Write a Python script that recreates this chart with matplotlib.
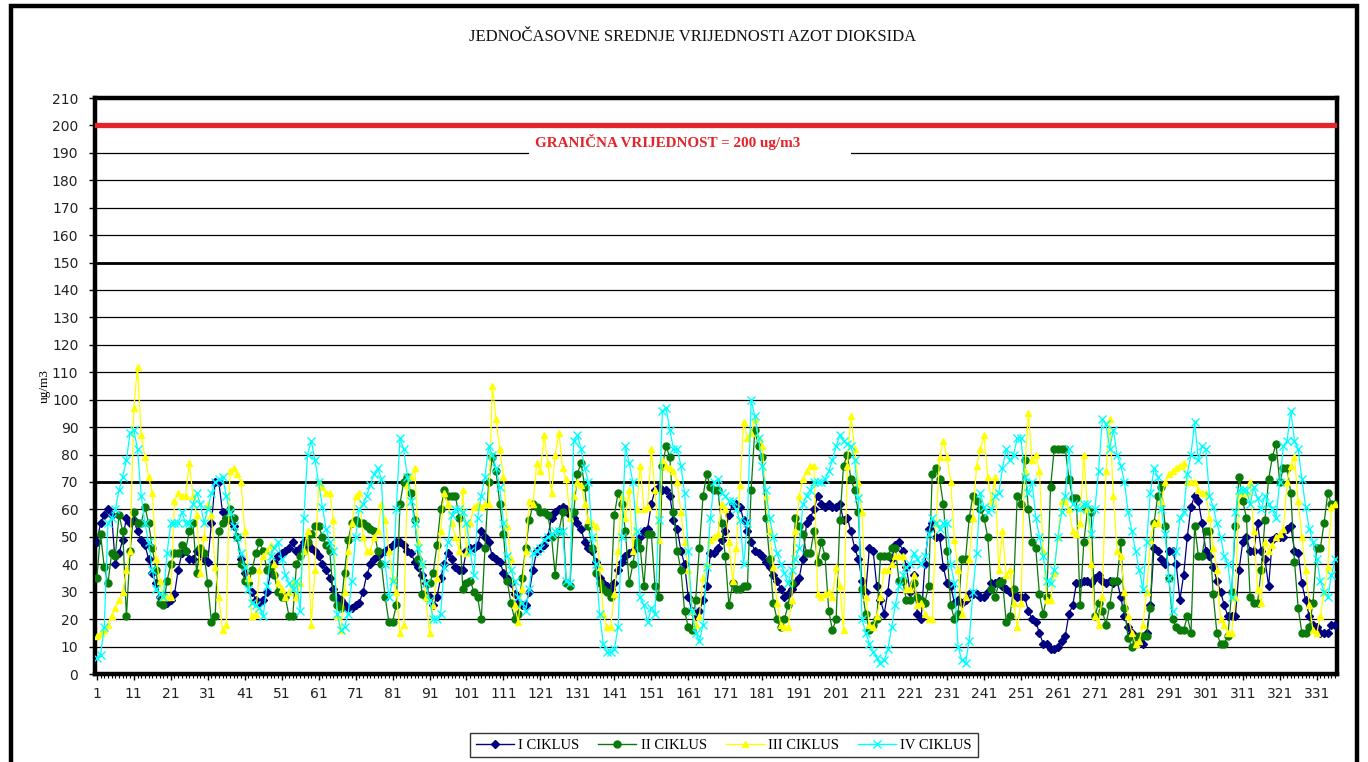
import numpy as np
import matplotlib
matplotlib.use("Agg")
import matplotlib.pyplot as plt
from matplotlib.patches import Rectangle
from matplotlib.lines import Line2D

TITLE = "JEDNOČASOVNE SREDNJE VRIJEDNOSTI AZOT DIOKSIDA"
LIMIT_LABEL = "GRANIČNA VRIJEDNOST = 200 ug/m3"
LIMIT_VALUE = 200
Y_LABEL = "ug/m3"
SERIES_NAMES = ["I CIKLUS", "II CIKLUS", "III CIKLUS", "IV CIKLUS"]
X_TICKS = list(range(1, 332, 10))
Y_TICKS = list(range(0, 211, 10))
THICK_GRID = [70, 150]

I_CIKLUS = [
    48, 55, 58, 60, 58, 40, 44, 49, 57, 55,
    56, 52, 49, 47, 42, 37, 33, 28, 27, 26,
    27, 29, 38, 44, 45, 42, 42, 45, 44, 42,
    41, 55, 70, 70, 59, 57, 56, 54, 50, 42,
    37, 33, 30, 27, 26, 27, 30, 37, 41, 43,
    44, 45, 46, 48, 45, 46, 48, 47, 46, 45,
    43, 40, 38, 35, 31, 28, 27, 25, 24, 24,
    25, 26, 30, 36, 40, 42, 43, 44, 45, 46,
    47, 48, 48, 47, 45, 44, 41, 39, 36, 33,
    28, 25, 28, 35, 40, 44, 42, 39, 38, 38,
    45, 46, 46, 47, 52, 50, 48, 43, 42, 41,
    37, 35, 33, 29, 26, 25, 25, 30, 38, 45,
    46, 47, 50, 57, 59, 60, 61, 60, 58, 57,
    55, 53, 48, 46, 45, 41, 35, 33, 32, 31,
    33, 38, 41, 43, 44, 45, 48, 50, 52, 53,
    62, 67, 68, 67, 67, 65, 56, 53, 45, 40,
    28, 23, 21, 23, 27, 32, 44, 44, 46, 49,
    52, 58, 62, 62, 61, 56, 52, 48, 45, 44,
    43, 41, 39, 36, 34, 31, 28, 29, 31, 33,
    35, 42, 55, 57, 60, 65, 62, 61, 62, 61,
    61, 62, 56, 57, 52, 46, 42, 34, 30, 46,
    45, 32, 27, 22, 30, 42, 47, 48, 45, 39,
    30, 36, 22, 20, 40, 53, 55, 50, 50, 39,
    33, 32, 26, 27, 26, 27, 29, 29, 29, 28,
    28, 30, 33, 33, 34, 32, 31, 30, 29, 28,
    28, 28, 23, 20, 19, 15, 11, 11, 9, 9,
    10, 12, 14, 22, 25, 33, 33, 34, 34, 33,
    35, 36, 34, 33, 34, 33, 34, 28, 21, 17,
    15, 13, 12, 11, 15, 25, 46, 45, 42, 40,
    45, 45, 40, 27, 36, 50, 61, 65, 63, 55,
    45, 43, 39, 34, 30, 25, 21, 21, 21, 38,
    48, 50, 45, 45, 55, 45, 42, 32, 49, 50,
    50, 50, 53, 54, 45, 44, 33, 27, 21, 18,
    17, 15, 15, 15, 18, 18,
]

II_CIKLUS = [
    35, 51, 39, 33, 44, 43, 58, 52, 21, 45,
    59, 55, 55, 61, 55, 46, 38, 26, 25, 34,
    40, 44, 44, 47, 45, 52, 55, 37, 46, 44,
    33, 19, 21, 52, 55, 57, 60, 57, 50, 40,
    34, 33, 38, 44, 48, 45, 38, 39, 36, 30,
    28, 28, 21, 21, 40, 43, 45, 48, 51, 54,
    54, 50, 47, 45, 28, 25, 24, 37, 49, 55,
    56, 55, 55, 54, 53, 52, 45, 40, 28, 19,
    19, 25, 62, 70, 72, 66, 56, 42, 29, 28,
    33, 37, 47, 60, 67, 65, 65, 65, 57, 31,
    33, 34, 30, 28, 20, 46, 70, 79, 74, 62,
    51, 34, 26, 20, 22, 35, 46, 56, 62, 61,
    59, 59, 58, 50, 36, 52, 59, 33, 32, 59,
    73, 77, 68, 54, 46, 37, 33, 31, 30, 28,
    58, 66, 62, 52, 33, 40, 48, 46, 32, 51,
    51, 32, 28, 76, 83, 79, 59, 45, 38, 23,
    17, 16, 27, 46, 65, 73, 68, 67, 67, 55,
    43, 25, 33, 31, 31, 32, 32, 67, 89, 83,
    79, 57, 42, 26, 20, 17, 20, 25, 33, 57,
    54, 51, 44, 44, 52, 41, 48, 43, 23, 16,
    20, 56, 76, 80, 71, 67, 59, 31, 22, 16,
    18, 20, 43, 43, 43, 46, 46, 34, 34, 27,
    27, 33, 28, 27, 26, 32, 73, 75, 71, 62,
    45, 25, 20, 22, 42, 42, 57, 65, 63, 60,
    57, 50, 31, 28, 33, 34, 19, 21, 31, 65,
    62, 78, 60, 48, 46, 29, 22, 28, 68, 82,
    82, 82, 82, 71, 64, 64, 25, 48, 60, 59,
    21, 26, 23, 18, 25, 34, 34, 48, 24, 13,
    10, 12, 14, 14, 14, 24, 55, 65, 68, 54,
    35, 20, 17, 16, 16, 21, 15, 54, 43, 43,
    52, 52, 29, 15, 11, 11, 14, 30, 54, 72,
    63, 57, 28, 26, 26, 38, 56, 71, 79, 84,
    70, 75, 75, 66, 41, 24, 15, 15, 17, 26,
    46, 46, 55, 66, 62, 62,
]

III_CIKLUS = [
    14, 15, 16, 18, 21, 24, 27, 30, 38, 45,
    97, 112, 87, 79, 72, 66, 42, 34, 28, 28,
    28, 63, 66, 65, 65, 77, 65, 58, 37, 50,
    62, 58, 39, 28, 16, 18, 74, 75, 73, 70,
    52, 35, 21, 22, 38, 43, 45, 47, 40, 33,
    31, 28, 30, 33, 28, 33, 45, 52, 18, 38,
    70, 68, 66, 66, 56, 21, 16, 30, 45, 55,
    65, 66, 50, 45, 45, 50, 52, 62, 56, 45,
    35, 30, 15, 18, 69, 72, 75, 48, 40, 28,
    15, 25, 35, 52, 66, 62, 55, 50, 45, 67,
    44, 55, 61, 62, 61, 62, 62, 105, 93, 82,
    72, 54, 42, 25, 19, 31, 45, 63, 62, 77,
    74, 87, 77, 66, 80, 88, 75, 71, 57, 65,
    70, 69, 62, 56, 55, 54, 39, 22, 17, 17,
    29, 45, 65, 57, 67, 45, 60, 76, 60, 61,
    82, 67, 49, 78, 76, 75, 74, 70, 59, 48,
    38, 23, 18, 21, 35, 40, 49, 50, 51, 62,
    60, 48, 34, 46, 69, 92, 86, 88, 93, 86,
    83, 65, 52, 39, 26, 18, 17, 17, 27, 52,
    65, 71, 74, 76, 76, 29, 28, 29, 30, 28,
    39, 32, 16, 76, 94, 82, 70, 59, 28, 18,
    17, 21, 28, 38, 38, 40, 43, 43, 43, 31,
    31, 36, 25, 26, 22, 20, 20, 55, 79, 85,
    79, 70, 49, 38, 22, 28, 42, 57, 76, 82,
    87, 72, 63, 72, 38, 52, 36, 38, 26, 17,
    26, 74, 95, 78, 80, 74, 45, 27, 27, 37,
    50, 63, 63, 60, 52, 51, 55, 80, 60, 40,
    21, 18, 28, 74, 93, 65, 45, 43, 30, 21,
    15, 11, 12, 18, 30, 49, 55, 55, 63, 70,
    73, 74, 75, 76, 77, 70, 70, 70, 67, 66,
    66, 57, 46, 38, 20, 18, 15, 15, 28, 66,
    67, 66, 70, 52, 31, 26, 48, 45, 47, 50,
    51, 53, 70, 76, 79, 63, 50, 38, 25, 16,
    15, 21, 30, 39, 61, 62,
]

IV_CIKLUS = [
    6, 7, 17, 55, 57, 60, 67, 72, 78, 88,
    89, 82, 65, 55, 48, 38, 31, 29, 28, 44,
    55, 55, 55, 59, 55, 55, 62, 66, 62, 55,
    60, 66, 70, 71, 72, 65, 59, 54, 50, 44,
    39, 31, 26, 25, 24, 21, 32, 43, 46, 48,
    42, 36, 33, 31, 34, 23, 57, 80, 85, 78,
    70, 61, 53, 48, 45, 22, 16, 17, 22, 34,
    50, 60, 62, 65, 69, 73, 75, 71, 40, 28,
    34, 60, 86, 82, 72, 63, 55, 46, 40, 33,
    27, 20, 20, 22, 39, 48, 58, 60, 60, 59,
    55, 45, 36, 57, 65, 72, 83, 80, 75, 68,
    55, 43, 38, 34, 28, 26, 23, 31, 44, 45,
    46, 49, 50, 51, 52, 52, 52, 34, 33, 85,
    87, 82, 75, 70, 50, 40, 22, 11, 8, 8,
    9, 17, 50, 83, 77, 70, 52, 28, 25, 19,
    24, 22, 56, 96, 97, 89, 82, 82, 76, 66,
    45, 23, 15, 12, 18, 39, 57, 70, 71, 66,
    65, 63, 63, 60, 56, 40, 55, 100, 94, 86,
    76, 67, 57, 50, 44, 40, 37, 33, 38, 42,
    46, 62, 65, 67, 70, 70, 70, 71, 74, 78,
    83, 87, 85, 84, 83, 78, 64, 20, 15, 11,
    8, 6, 4, 5, 9, 17, 25, 32, 36, 39,
    40, 44, 42, 40, 43, 51, 57, 55, 53, 55,
    55, 40, 33, 10, 5, 4, 12, 30, 44, 66,
    61, 59, 60, 65, 66, 75, 82, 78, 80, 86,
    86, 72, 66, 70, 57, 50, 43, 34, 33, 38,
    50, 59, 65, 82, 62, 61, 60, 62, 62, 51,
    60, 74, 93, 91, 82, 89, 80, 76, 70, 59,
    52, 45, 38, 31, 48, 66, 75, 72, 60, 51,
    35, 23, 45, 57, 59, 73, 80, 92, 78, 83,
    82, 65, 61, 55, 50, 43, 40, 28, 59, 67,
    67, 67, 62, 68, 64, 60, 65, 62, 60, 57,
    70, 83, 85, 96, 85, 82, 71, 61, 53, 48,
    42, 34, 30, 28, 36, 42,
]

N_POINTS = 336

STYLES = [
    dict(color="#000080", marker="D", markersize=3.6, markerfacecolor="#000080", markeredgecolor="#000080"),
    dict(color="#0a7a0a", marker="o", markersize=5.0, markerfacecolor="#0a7a0a", markeredgecolor="#0a7a0a"),
    dict(color="#ffff00", marker="^", markersize=5.0, markerfacecolor="#ffff00", markeredgecolor="#ffff00"),
    dict(color="#00ffff", marker="x", markersize=5.5, markeredgewidth=1.0),
]

fig = plt.figure(figsize=(13.68, 7.62), dpi=100)
fig.patch.set_facecolor("white")

ax = fig.add_axes([95 / 1368, 1 - 674 / 762, (1337 - 95) / 1368, (674 - 98) / 762])

all_series = [I_CIKLUS, II_CIKLUS, III_CIKLUS, IV_CIKLUS]
for k, (name, vals, st) in enumerate(zip(SERIES_NAMES, all_series, STYLES)):
    xs = np.arange(1, len(vals) + 1)
    ax.plot(xs, vals, linewidth=0.9, label=name, zorder=3 + k, **st)

ax.axhline(LIMIT_VALUE, color="#e3242b", linewidth=3.8, zorder=8)

ax.set_xlim(0.5, N_POINTS + 0.5)
ax.set_ylim(0, 210)
ax.set_yticks(Y_TICKS)
ax.set_xticks(X_TICKS)
ax.set_xticks(np.arange(1, N_POINTS + 1), minor=True)
ax.set_xticklabels([str(t) for t in X_TICKS])

ax.grid(axis="y", color="black", linewidth=0.9, zorder=1)
ax.set_axisbelow(True)
for v in THICK_GRID:
    ax.axhline(v, color="black", linewidth=2.0, zorder=1.5)

for sp in ax.spines.values():
    sp.set_linewidth(3.2)
    sp.set_color("black")

ax.tick_params(axis="y", which="major", length=4, width=1, direction="out", pad=8,
               labelsize=10, labelcolor="#222222")
ax.tick_params(axis="x", which="major", length=4, width=1, direction="out", pad=5,
               labelsize=10, labelcolor="#222222")
ax.tick_params(axis="x", which="minor", length=3, width=0.8, direction="out")
for lab in ax.get_xticklabels() + ax.get_yticklabels():
    lab.set_fontfamily("DejaVu Sans")

ax.text(119.5, 192.0, LIMIT_LABEL + "            ", color="#e3242b", fontsize=10.9,
        fontweight="bold", family="Liberation Serif", ha="left", va="baseline",
        zorder=7,
        bbox=dict(facecolor="white", edgecolor="none", boxstyle="square,pad=0.4"))

ax.set_ylabel(Y_LABEL, fontsize=9.5, family="Liberation Serif")
ax.yaxis.set_label_coords(-0.036, 0.50)

fig.text(0.506, 0.951, TITLE, ha="center", va="center", fontsize=12,
         family="Liberation Serif", color="#111111")

handles = []
for name, st in zip(SERIES_NAMES, STYLES):
    handles.append(Line2D([0], [0], linewidth=1.0, label=name, **st))
leg = fig.legend(handles=handles, loc="center", bbox_to_anchor=(724 / 1368, 1 - 745 / 762),
                 ncol=4, frameon=True, fancybox=False, edgecolor="black",
                 prop={"family": "Liberation Serif", "size": 10.5},
                 handlelength=2.6, columnspacing=1.3, handletextpad=0.3,
                 borderpad=0.4)
leg.get_frame().set_linewidth(1.0)

border = Rectangle((11 / 1368, -0.05), (1357 - 11) / 1368, 1 - 6 / 762 + 0.05,
                   transform=fig.transFigure, fill=False, edgecolor="black",
                   linewidth=3.2, clip_on=False)
fig.patches.append(border)

fig.savefig("out.png", dpi=100, facecolor="white")
